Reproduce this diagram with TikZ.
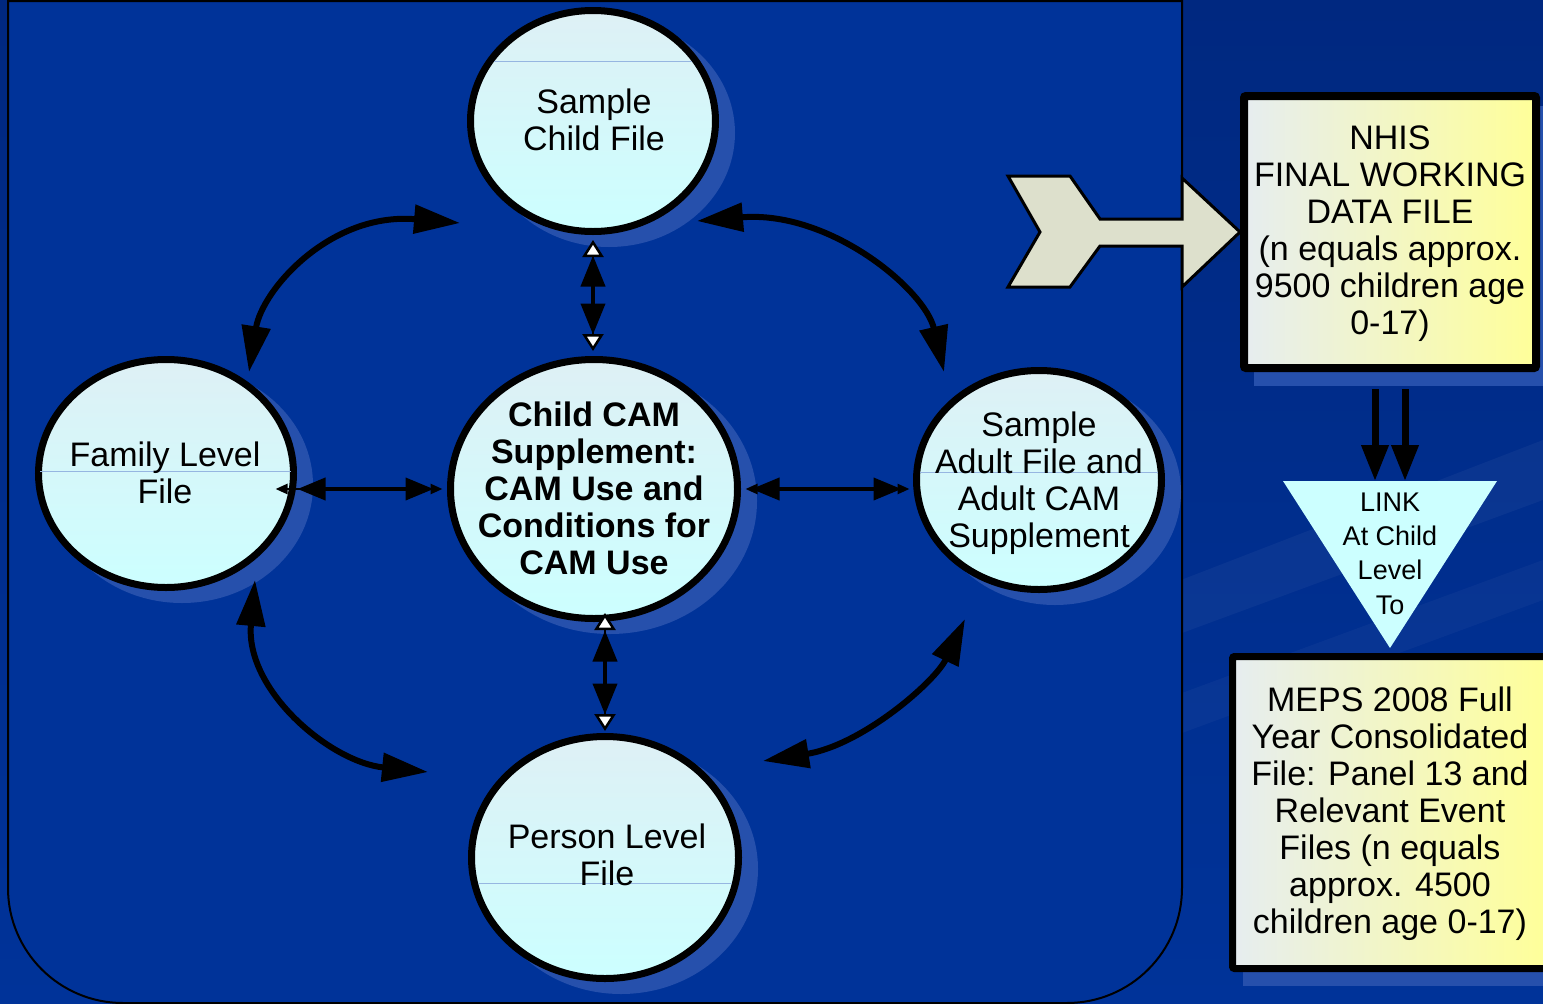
\documentclass[tikz,border=0pt]{standalone}
\usepackage{fontspec}
\setmainfont{Liberation Sans}
\usetikzlibrary{arrows.meta,shapes.geometric,calc}
\definecolor{bgtop}{RGB}{0,40,128}
\definecolor{bgbot}{RGB}{0,51,153}
\definecolor{panelblue}{RGB}{0,51,153}
\definecolor{shadowblue}{RGB}{38,80,172}
\definecolor{ovaltop}{RGB}{222,240,245}
\definecolor{ovalbot}{RGB}{204,255,255}
\definecolor{gloss}{RGB}{150,182,225}
\definecolor{boxleft}{RGB}{230,237,240}
\definecolor{boxright}{RGB}{255,255,153}
\definecolor{chevfill}{RGB}{221,224,204}
\definecolor{linkfill}{RGB}{204,255,255}
\begin{document}
\begin{tikzpicture}[x=1pt,y=-1pt,
  oval/.style={ellipse, draw=black, line width=7pt, top color=ovaltop, bottom color=ovalbot, inner sep=0pt},
  ovaltext/.style={font=\fontsize{34}{37}\selectfont, align=center, inner sep=0pt, text=black},
  boldtext/.style={font=\fontsize{34}{37}\selectfont\bfseries, align=center, inner sep=0pt, text=black},
  linktext/.style={font=\fontsize{27}{34.3}\selectfont, align=center, inner sep=0pt, text=black},
  databox/.style={rectangle, draw=black, left color=boxleft, right color=boxright, inner sep=0pt, rounded corners=2pt},
  curvearrow/.style={line width=6pt, {Triangle[length=46pt,width=28pt]}-{Triangle[length=46pt,width=28pt]}},
  whiteends/.style={line width=2.5pt, {Triangle[length=17pt,width=21pt,fill=white]}-{Triangle[length=17pt,width=21pt,fill=white]}},
  vbigends/.style={line width=4pt, {Triangle[length=31pt,width=24pt]}-{Triangle[length=31pt,width=24pt]}},
  smallends/.style={line width=2.5pt, {Triangle[length=12pt,width=10pt]}-{Triangle[length=12pt,width=10pt]}},
  hbigends/.style={line width=4pt, {Triangle[length=28pt,width=22pt]}-{Triangle[length=28pt,width=22pt]}},
  downarrow/.style={line width=7pt, -{Triangle[length=36pt,width=26pt]}}
]
\useasboundingbox (0,0) rectangle (1543,1004);
% background
\fill[top color=bgtop, bottom color=bgbot] (0,0) rectangle (1543,1004);
\fill[white, opacity=0.04] (1000,650) -- (1543,440) -- (1543,500) -- (1000,700) -- cycle;
\fill[white, opacity=0.03] (1000,760) -- (1543,560) -- (1543,600) -- (1000,800) -- cycle;
% panel
\draw[line width=2pt, fill=panelblue] (1182,1) -- (8,1) -- (8,888)
  arc[start angle=180, end angle=90, radius=115] -- (1067,1003)
  arc[start angle=90, end angle=0, radius=115] -- cycle;

% shadows
\fill[shadowblue] (609,133) ellipse [x radius=126, y radius=114];
\fill[shadowblue] (182,485) ellipse [x radius=131, y radius=118];
\fill[shadowblue] (610,501) ellipse [x radius=147, y radius=133];
\fill[shadowblue] (1055,492) ellipse [x radius=126, y radius=113];
\fill[shadowblue] (621,869) ellipse [x radius=137, y radius=125];
\fill[shadowblue] (1254,106) rectangle (1554,386);
\fill[shadowblue] (1243,667) rectangle (1565,986);

% ovals
\node[oval, minimum width=245pt, minimum height=221pt] (child) at (593,121) {};
\node[oval, minimum width=255pt, minimum height=228pt] (family) at (166,473.5) {};
\node[oval, minimum width=287pt, minimum height=259pt] (cam) at (594,489) {};
\node[oval, minimum width=245pt, minimum height=219pt] (adult) at (1039,480) {};
\node[oval, minimum width=267pt, minimum height=242pt] (person) at (605,857.5) {};
% gloss lines
\draw[gloss, line width=1pt] (494,61) -- (692,61);
\draw[gloss, line width=1pt] (40,471) -- (291,471);
\draw[gloss, line width=1pt] (920,472) -- (1158,472);
\draw[gloss, line width=1pt] (478,883) -- (732,883);
% oval texts
\node[ovaltext] (childtxt) at (594,120) {Sample\\Child File};
\node[ovaltext] (familytxt) at (165,473) {Family Level\\File};
\node[boldtext] (camtxt) at (594,488) {Child CAM\\Supplement:\\CAM Use and\\Conditions for\\CAM Use};
\node[ovaltext] (adulttxt) at (1039,483) {Sample\\Adult File and\\Adult CAM\\Supplement};
\node[ovaltext] (persontxt) at (607,855) {Person Level\\File};

% straight connectors
\draw[whiteends, shorten <=5pt, shorten >=5pt] (child.south) -- (child.south |- cam.north);
\draw[vbigends, shorten <=20.5pt, shorten >=21.5pt] (child.south) -- (child.south |- cam.north);
\draw[whiteends, shorten <=-9pt, shorten >=2pt] (person.north |- cam.south) -- (person.north);
\draw[vbigends, shorten <=8.5pt, shorten >=18.5pt] (person.north |- cam.south) -- (person.north);
\draw[smallends, shorten <=-21.5pt, shorten >=4.5pt] (cam.west -| family.east) -- (cam.west);
\draw[hbigends, shorten <=0.5pt, shorten >=13.5pt] (cam.west -| family.east) -- (cam.west);
\draw[smallends, shorten <=4.5pt, shorten >=3.5pt] (cam.east) -- (cam.east -| adult.west);
\draw[hbigends, shorten <=10.5pt, shorten >=11.5pt] (cam.east) -- (cam.east -| adult.west);

% curved connectors
\coordinate (tla) at (460,223);
\coordinate (tlb) at (249,372);
\coordinate (tra) at (697,221);
\coordinate (trb) at (944,372);
\coordinate (bla) at (255,580);
\coordinate (blb) at (428,772);
\coordinate (bra) at (965,619);
\coordinate (brb) at (763,761);
\draw[curvearrow] (tla) .. controls (330,212) and (262,290) .. (tlb);
\draw[curvearrow] (tra) .. controls (830,210) and (925,290) .. (trb);
\draw[curvearrow] (bla) .. controls (245,690) and (330,762) .. (blb);
\draw[curvearrow] (bra) .. controls (935,682) and (862,745) .. (brb);

% boxes
\node[databox, line width=8pt, minimum width=292pt, minimum height=272pt] (nhis) at (1390,232) {};
\node[ovaltext] (nhistxt) at (1390,234) {NHIS\\FINAL WORKING\\DATA FILE\\(n equals approx.\\9500 children age\\0-17)};
\node[databox, line width=7pt, minimum width=315pt, minimum height=312pt] (meps) at (1390,812.5) {};
\node[ovaltext] (mepstxt) at (1390,814) {MEPS 2008 Full\\Year Consolidated\\File: Panel 13 and\\Relevant Event\\Files (n equals\\approx. 4500\\children age 0-17)};

% chevron arrow
\draw[line width=3pt, fill=chevfill, line join=miter] (1008,176) -- (1070,176) -- (1100,219) -- (1182,219) -- (1182,178) -- (nhis.west) -- (1182,287) -- (1182,246) -- (1100,246) -- (1070,287) -- (1008,287) -- (1040,232) -- cycle;

% link triangle
\coordinate (linktop) at (1390,481);
\fill[linkfill] (1283,481) -- (1497,481) -- (1390,648) -- cycle;
\node[linktext] (linktxt) at (1390,553.5) {LINK\\At Child\\Level\\To};
\draw[downarrow] ($(nhis.south)+(-15,17)$) -- ($(linktop)+(-15,0)$);
\draw[downarrow] ($(nhis.south)+(15,17)$) -- ($(linktop)+(15,0)$);
\end{tikzpicture}
\end{document}
